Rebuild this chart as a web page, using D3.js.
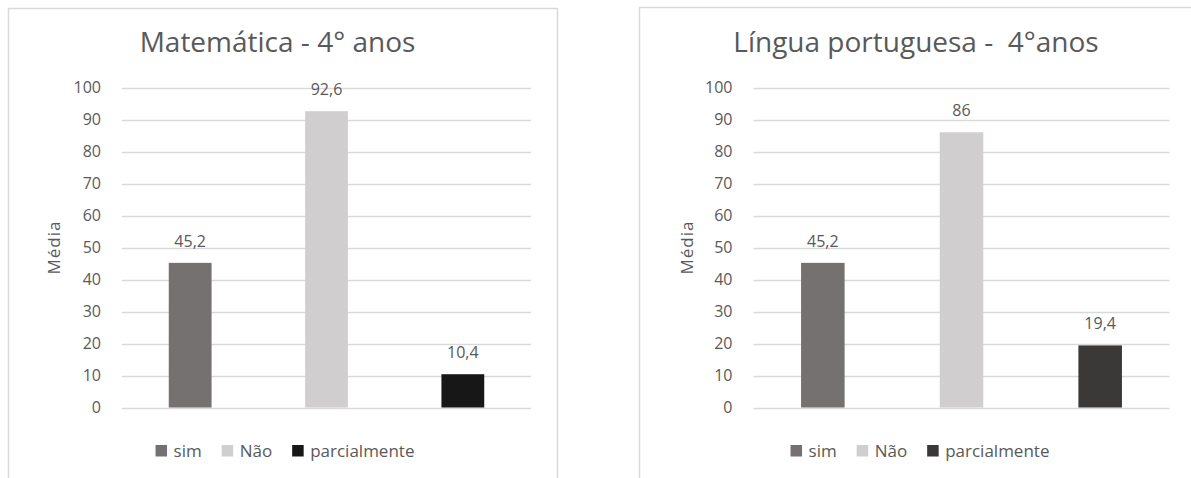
<!DOCTYPE html>
<html>
<head>
<meta charset="utf-8">
<script src="https://cdn.jsdelivr.net/npm/d3@7"></script>
<style>
  html, body { margin: 0; padding: 0; background: #ffffff; }
  svg text { font-family: "Open Sans", "DejaVu Sans", sans-serif; fill: #595959; }
</style>
</head>
<body>
<svg id="chart" width="1191" height="478"></svg>
<script>
// ---- data ----
const categories = ["sim", "Não", "parcialmente"];
const mathValues = [45.2, 92.6, 10.4];
const portValues = [45.2, 86, 19.4];
const yTicks = [0, 10, 20, 30, 40, 50, 60, 70, 80, 90, 100];
const chartTitles = ["Matemática - 4° anos", "Língua portuguesa -  4°anos"];
const yAxisLabel = "Média";
const colorsMath = ["#767171", "#d0cece", "#171717"];
const colorsPort = ["#767171", "#d0cece", "#3b3838"];

// ---- layout ----
const panels = [
  { values: mathValues, colors: colorsMath, title: chartTitles[0],
    box: [8, 8, 549, 480], plot: [122, 531], titleX: 277.5, legendX: 285, yLabelX: 54 },
  { values: portValues, colors: colorsPort, title: chartTitles[1],
    box: [639, 7, 570, 480], plot: [753.5, 1169.5], titleX: 916, legendX: 920, yLabelX: 687 }
];
const yTop = 87.5, yBottom = 407.5;

const svg = d3.select("#chart");

panels.forEach(p => {
  const g = svg.append("g");
  g.append("rect")
    .attr("x", p.box[0] + 0.5).attr("y", p.box[1] + 0.5)
    .attr("width", p.box[2]).attr("height", p.box[3])
    .attr("fill", "#ffffff").attr("stroke", "#d9d9d9").attr("stroke-width", 1.5);

  const x = d3.scaleBand().domain(categories).range(p.plot)
    .paddingInner(0.686).paddingOuter(0.343);
  const y = d3.scaleLinear().domain([0, 100]).range([yBottom, yTop]);

  // gridlines
  g.append("g").selectAll("line").data(yTicks).join("line")
    .attr("x1", p.plot[0]).attr("x2", p.plot[1])
    .attr("y1", d => Math.round(y(d)) + 0.5).attr("y2", d => Math.round(y(d)) + 0.5)
    .attr("stroke", "#d9d9d9").attr("stroke-width", 1.3);

  // y axis labels
  const yAxis = d3.axisLeft(y).tickValues(yTicks).tickSize(0).tickPadding(21);
  const ag = g.append("g").attr("transform", `translate(${p.plot[0]},0)`).call(yAxis);
  ag.select(".domain").remove();
  ag.selectAll("text").attr("font-size", 16).attr("fill", "#595959")
    .style("font-family", '"Open Sans", sans-serif');

  // bars
  g.append("g").selectAll("rect").data(p.values).join("rect")
    .attr("x", (d, i) => x(categories[i]))
    .attr("width", x.bandwidth())
    .attr("y", d => y(d))
    .attr("height", d => y(0) - y(d))
    .attr("fill", (d, i) => p.colors[i]);

  // data labels
  g.append("g").selectAll("text").data(p.values).join("text")
    .attr("x", (d, i) => x(categories[i]) + x.bandwidth() / 2)
    .attr("y", d => y(d) - 16)
    .attr("text-anchor", "middle")
    .attr("font-size", 16)
    .text(d => String(d).replace(".", ","));

  // title
  g.append("text")
    .attr("x", p.titleX).attr("y", 52)
    .attr("text-anchor", "middle")
    .attr("font-size", 28)
    .style("white-space", "pre")
    .attr("xml:space", "preserve")
    .text(p.title);

  // y label
  g.append("text")
    .attr("transform", `translate(${p.yLabelX + 6},${(yTop + yBottom) / 2}) rotate(-90)`)
    .attr("text-anchor", "middle")
    .attr("font-size", 17)
    .attr("letter-spacing", 1)
    .text(yAxisLabel);

  // legend
  const lg = g.append("g");
  let cx = 0;
  categories.forEach((c, i) => {
    const item = lg.append("g").attr("transform", `translate(${cx},0)`);
    item.append("rect").attr("x", 0).attr("y", 445).attr("width", 11.5).attr("height", 11.5)
      .attr("fill", p.colors[i]);
    const t = item.append("text").attr("x", 18).attr("y", 456.5)
      .attr("font-size", 17).text(c);
    cx += 18 + t.node().getComputedTextLength() + 20;
  });
  const lw = cx - 20;
  lg.attr("transform", `translate(${p.legendX - lw / 2},0)`);
});
</script>
</body>
</html>
